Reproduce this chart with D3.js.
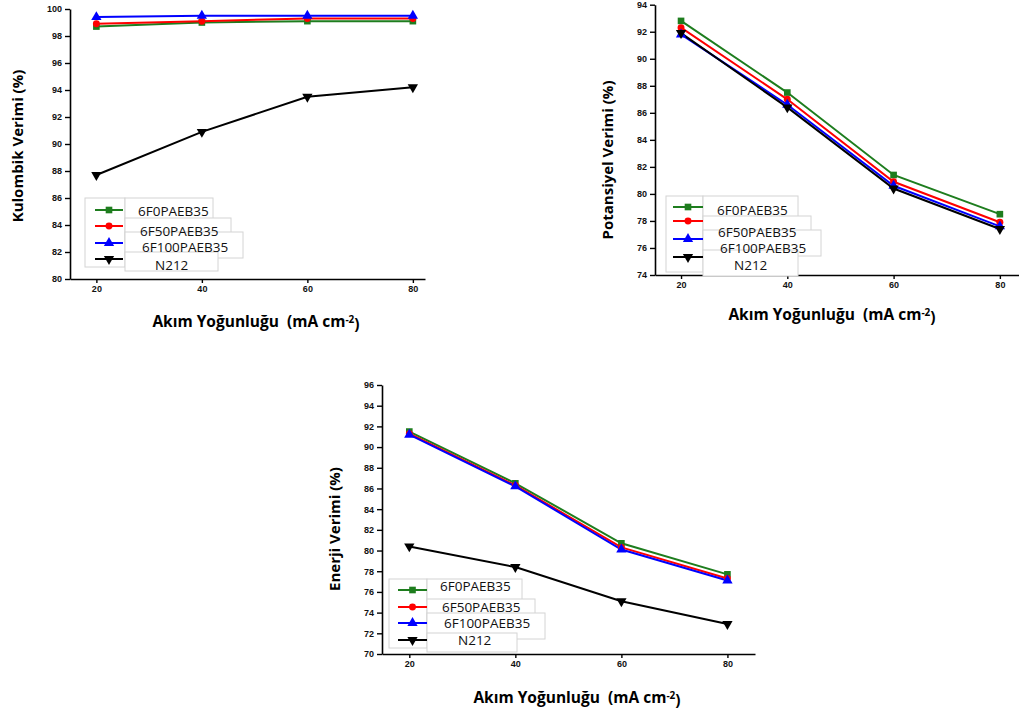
<!DOCTYPE html>
<html><head><meta charset="utf-8">
<script src="https://cdn.jsdelivr.net/npm/d3@7"></script>
<style>
body{margin:0;background:#fff;}
svg{display:block;}
</style></head>
<body><svg id="c" width="1019" height="715"></svg>
<script>
const xValues = [20, 40, 60, 80];
const seriesNames = ["6F0PAEB35", "6F50PAEB35", "6F100PAEB35", "N212"];
const seriesColors = ["#1e7d1e", "#ff0000", "#0000ff", "#000000"];
const xTicks = [20, 40, 60, 80];

// Kulombik Verimi
const kulombik_6F0 = [98.7, 99.0, 99.1, 99.1];
const kulombik_6F50 = [98.9, 99.1, 99.3, 99.3];
const kulombik_6F100 = [99.4, 99.5, 99.5, 99.5];
const kulombik_N212 = [87.7, 90.9, 93.5, 94.2];
const kulombikTicks = [80, 82, 84, 86, 88, 90, 92, 94, 96, 98, 100];

// Potansiyel Verimi
const potansiyel_6F0 = [92.8, 87.5, 81.4, 78.5];
const potansiyel_6F50 = [92.3, 87.0, 80.9, 77.9];
const potansiyel_6F100 = [91.8, 86.6, 80.6, 77.6];
const potansiyel_N212 = [91.9, 86.4, 80.4, 77.4];
const potansiyelTicks = [74, 76, 78, 80, 82, 84, 86, 88, 90, 92, 94];

// Enerji Verimi
const enerji_6F0 = [91.5, 86.5, 80.7, 77.7];
const enerji_6F50 = [91.3, 86.3, 80.3, 77.3];
const enerji_6F100 = [91.2, 86.2, 80.1, 77.1];
const enerji_N212 = [80.4, 78.4, 75.1, 72.9];
const enerjiTicks = [70, 72, 74, 76, 78, 80, 82, 84, 86, 88, 90, 92, 94, 96];

const svg = d3.select("#c");
const symbols = [d3.symbolSquare, d3.symbolCircle, d3.symbolTriangle, d3.symbolTriangle];
const symSizes = [44, 38, 46, 46];

function drawMarker(g, i, x, y) {
  g.append("path")
    .attr("d", d3.symbol().type(symbols[i]).size(symSizes[i])())
    .attr("transform", `translate(${x},${y})` + (i === 3 ? " rotate(180)" : ""))
    .attr("fill", seriesColors[i]);
}

function panel(cfg) {
  const g = svg.append("g");
  const x = d3.scaleLinear().domain(cfg.xDomain).range([cfg.left, cfg.right]);
  const y = d3.scaleLinear().domain(cfg.yDomain).range([cfg.bottom, cfg.top]);

  const xa = g.append("g").attr("transform", `translate(0,${cfg.bottom})`)
    .call(d3.axisBottom(x).tickValues(xTicks).tickSize(4).tickPadding(3).tickSizeOuter(0));
  const ya = g.append("g").attr("transform", `translate(${cfg.left},0)`)
    .call(d3.axisLeft(y).tickValues(cfg.yTicks).tickSize(5).tickPadding(3).tickSizeOuter(0));
  [xa, ya].forEach(a => {
    a.select(".domain").attr("stroke", "#000").attr("stroke-width", 1.6);
    a.selectAll(".tick line").attr("stroke", "#000").attr("stroke-width", 1.4);
    a.selectAll(".tick text").attr("font-family", "Liberation Sans, Arial, sans-serif")
      .attr("font-weight", "bold").attr("font-size", "9px").attr("fill", "#111");
  });

  const L = cfg.legend;
  const lg = g.append("g");
  const bxs = [
    [L.x0, L.y0, L.x1 - L.x0, L.y3 - L.y0],
    [L.x1, L.y0, L.w1, 22],
    [L.x1, L.y0 + 20, L.w2, 24],
    [L.x1, L.y0 + 34, L.w3, 26],
    [L.x1, L.y0 + 54, L.w4, L.y3 - L.y0 - 50]
  ];
  bxs.forEach(b => lg.append("rect").attr("x", b[0]).attr("y", b[1]).attr("width", b[2]).attr("height", b[3])
    .attr("fill", "#fff").attr("stroke", "#d4d4d4").attr("stroke-width", 1));

  const line = d3.line().x((d, i) => x(xValues[i])).y(d => y(d));
  cfg.series.forEach((s, i) => {
    g.append("path").datum(s).attr("d", line).attr("fill", "none")
      .attr("stroke", seriesColors[i]).attr("stroke-width", 2);
  });
  cfg.series.forEach((s, i) => {
    s.forEach((v, j) => drawMarker(g, i, x(xValues[j]), y(v)));
  });

  seriesNames.forEach((n, i) => {
    const ly = L.ly[i];
    g.append("line").attr("x1", L.lx0).attr("x2", L.lx1).attr("y1", ly).attr("y2", ly)
      .attr("stroke", seriesColors[i]).attr("stroke-width", 2);
    drawMarker(g, i, (L.lx0 + L.lx1) / 2, ly);
    g.append("text").attr("x", L.tx[i]).attr("y", L.ty[i]).attr("dy", "0.35em")
      .attr("font-family", "Open Sans, sans-serif").attr("font-size", "13.5px").attr("fill", "#111")
      .text(n);
  });

  g.append("text").attr("transform", `translate(${cfg.ytX},${cfg.ytY}) rotate(-90)`)
    .attr("text-anchor", "middle").attr("dy", "0.35em")
    .attr("font-family", "Open Sans, sans-serif").attr("font-weight", "bold").attr("font-size", "15px")
    .attr("fill", "#000").text(cfg.yTitle);

  const xt = g.append("text").attr("x", cfg.xtX).attr("y", cfg.xtY).attr("dy", "0.35em")
    .attr("text-anchor", "middle")
    .attr("font-family", "Open Sans, sans-serif").attr("font-weight", "bold").attr("font-size", "15.5px")
    .attr("fill", "#000");
  xt.append("tspan").text("Akım Yoğunluğu\u00a0 (mA cm");
  xt.append("tspan").attr("dy", "-0.45em").attr("font-size", "10px").text("-2");
  xt.append("tspan").attr("dy", "0.45em").text(")");
}

panel({
  left: 70, right: 425, top: 9, bottom: 279,
  xDomain: [15, 82.3], yDomain: [80, 100], yTicks: kulombikTicks,
  series: [kulombik_6F0, kulombik_6F50, kulombik_6F100, kulombik_N212],
  yTitle: "Kulombik Verimi (%)", ytX: 18, ytY: 146,
  xtX: 256, xtY: 322,
  legend: { x0: 85, y0: 198, x1: 125, y3: 267, w1: 88, w2: 106, w3: 118, w4: 93,
    lx0: 95, lx1: 123, ly: [210, 226, 243, 259],
    tx: [138, 140, 142, 155], ty: [211, 231, 247, 265] }
});

panel({
  left: 655, right: 1019, top: 4.7, bottom: 275,
  xDomain: [15.1, 83.6], yDomain: [74, 94], yTicks: potansiyelTicks,
  series: [potansiyel_6F0, potansiyel_6F50, potansiyel_6F100, potansiyel_N212],
  yTitle: "Potansiyel Verimi (%)", ytX: 608, ytY: 160,
  xtX: 832, xtY: 315,
  legend: { x0: 666, y0: 196, x1: 703, y3: 272, w1: 95, w2: 108, w3: 118, w4: 95,
    lx0: 673, lx1: 703, ly: [207, 221, 239, 257],
    tx: [717, 718, 720, 734], ty: [210, 232, 248, 265] }
});

panel({
  left: 382, right: 755, top: 385, bottom: 654,
  xDomain: [14.85, 85.2], yDomain: [70, 96], yTicks: enerjiTicks,
  series: [enerji_6F0, enerji_6F50, enerji_6F100, enerji_N212],
  yTitle: "Enerji Verimi (%)", ytX: 335, ytY: 529,
  xtX: 577, xtY: 698,
  legend: { x0: 389, y0: 579, x1: 427, y3: 648, w1: 95, w2: 108, w3: 118, w4: 90,
    lx0: 398, lx1: 427, ly: [590, 607, 623, 640],
    tx: [440, 442, 444, 458], ty: [586, 607, 623, 640] }
});
</script></body></html>
